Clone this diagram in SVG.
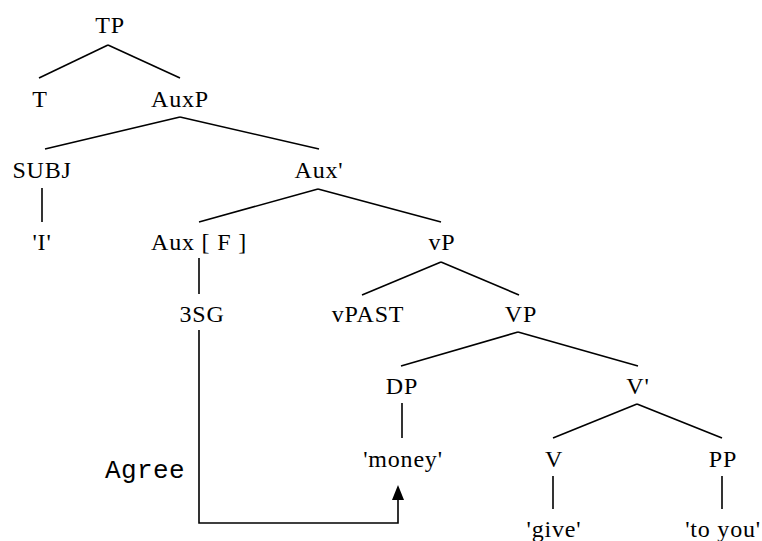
<svg xmlns="http://www.w3.org/2000/svg" width="762" height="541" viewBox="0 0 762 541">
<style>
.t{font-family:"Liberation Serif","Times New Roman",serif;font-size:24px;text-anchor:middle;fill:#000;letter-spacing:0.8px}
.m{font-family:"Liberation Mono","Courier New",monospace;font-size:26px;fill:#000;letter-spacing:0.4px}
.e{stroke:#000;stroke-width:1.6;fill:none}
</style>
<rect width="762" height="541" fill="#fff"/>
<g id="connectors" class="e">
<line x1="108" y1="45" x2="39" y2="78"/>
<line x1="108" y1="45" x2="180" y2="78"/>
<line x1="180" y1="117" x2="45" y2="149"/>
<line x1="180" y1="117" x2="319" y2="149"/>
<line x1="42" y1="188" x2="42" y2="222"/>
<line x1="318" y1="189" x2="199" y2="222"/>
<line x1="318" y1="189" x2="441" y2="222"/>
<line x1="199" y1="258" x2="199" y2="294"/>
<line x1="441" y1="262" x2="362" y2="295"/>
<line x1="441" y1="262" x2="519" y2="295"/>
<line x1="518" y1="332" x2="401" y2="366"/>
<line x1="518" y1="332" x2="638" y2="366"/>
<line x1="402" y1="403" x2="402" y2="438"/>
<line x1="637" y1="404" x2="553" y2="438"/>
<line x1="637" y1="404" x2="722" y2="438"/>
<line x1="553" y1="476" x2="553" y2="509"/>
<line x1="722" y1="476" x2="722" y2="509"/>
<path id="agree-arrow" d="M199,330 L199,523 L398,523 L398,499"/>
<polygon points="398,485 392,500 404,500" fill="#000" stroke="none"/>
</g>
<g id="TP"><text class="t" x="110" y="33">TP</text></g>
<g id="T"><text class="t" x="40" y="107">T</text></g>
<g id="AuxP"><text class="t" x="180" y="107">AuxP</text></g>
<g id="SUBJ"><text class="t" x="42" y="178">SUBJ</text></g>
<g id="Auxbar"><text class="t" x="319" y="178">Aux'</text></g>
<g id="I"><text class="t" x="42" y="250">'I'</text></g>
<g id="AuxF"><text class="t" x="199" y="250">Aux [ F ]</text></g>
<g id="vP"><text class="t" x="442" y="250">vP</text></g>
<g id="3SG"><text class="t" x="202" y="322">3SG</text></g>
<g id="vPAST"><text class="t" x="368" y="322">vPAST</text></g>
<g id="VP"><text class="t" x="521" y="322">VP</text></g>
<g id="DP"><text class="t" x="402" y="394">DP</text></g>
<g id="Vbar"><text class="t" x="638" y="394">V'</text></g>
<g id="money"><text class="t" x="403" y="467">'money'</text></g>
<g id="V"><text class="t" x="554" y="467">V</text></g>
<g id="PP"><text class="t" x="723" y="467">PP</text></g>
<g id="give"><text class="t" x="554" y="537">'give'</text></g>
<g id="toyou"><text class="t" x="723" y="537">'to you'</text></g>
<g id="Agree"><text class="m" x="105" y="478">Agree</text></g>
</svg>
